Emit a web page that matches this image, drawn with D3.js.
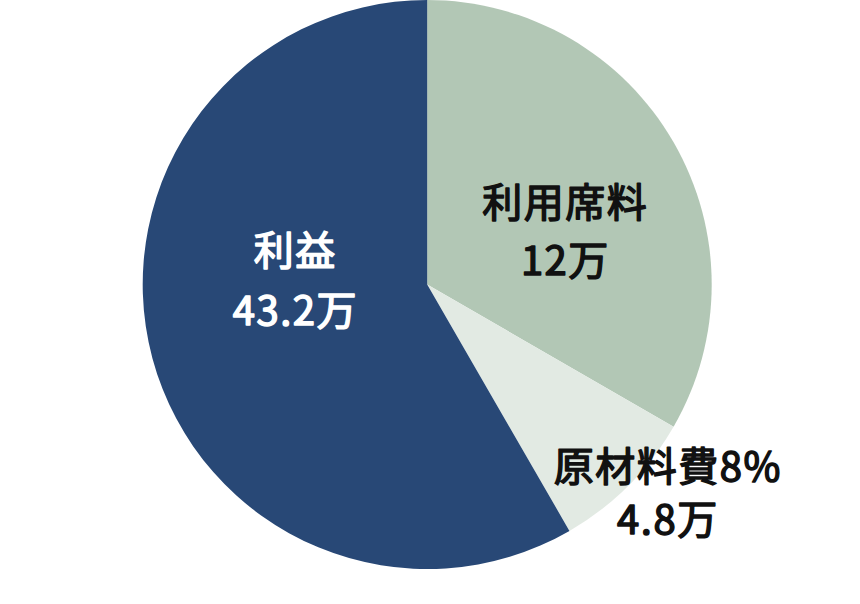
<!DOCTYPE html>
<html>
<head>
<meta charset="utf-8">
<script src="https://cdn.jsdelivr.net/npm/d3@7"></script>
<style>
  html, body { margin: 0; padding: 0; background: #fff; }
  svg text { font-family: "Noto Sans CJK JP", "Noto Sans", sans-serif; }
</style>
</head>
<body>
<svg id="chart" width="860" height="604"></svg>
<script>
// Slice data (shares, clockwise from 12 o'clock)
const categories = ["利用席料", "原材料費8%", "利益"];
const amounts = ["12万", "4.8万", "43.2万"];
const shares = [20, 5, 35];

const colors = ["#b2c7b5", "#e2eae3", "#284876"];
const textColors = ["#111", "#111", "#fff"];

// Label placement: radius from centre, angle (deg from top), line gap
const labelLayout = [
    { r: 149, a: 68, gap: 58 },
    { r: 317, a: 130.6, gap: 53 },
    { r: 132, a: 272.8, gap: 60 }
];

const width = 860, height = 604;
const cx = 427.2, cy = 284.5, radius = 284.5;

const svg = d3.select("#chart");
const g = svg.append("g").attr("transform", `translate(${cx},${cy})`);

const pie = d3.pie().sort(null).value(d => d);
const arc = d3.arc().innerRadius(0).outerRadius(radius);

const arcs = pie(shares);

g.selectAll("path")
    .data(arcs)
    .join("path")
    .attr("d", arc)
    .attr("fill", (d, i) => colors[i]);

// Labels
const labels = g.selectAll("g.label")
    .data(arcs)
    .join("g")
    .attr("class", "label")
    .attr("transform", (d, i) => {
        const l = labelLayout[i];
        const ang = l.a * Math.PI / 180;
        return `translate(${l.r * Math.sin(ang)},${-l.r * Math.cos(ang)})`;
    });

// medium weight look: regular face with a thin same-colour stroke
function addLine(sel, key, sign) {
    sel.append("text")
        .attr("text-anchor", "middle")
        .attr("dominant-baseline", "central")
        .attr("y", (d, i) => sign * labelLayout[i].gap / 2)
        .style("font-size", "40px")
        .style("font-weight", 400)
        .style("letter-spacing", "1.5px")
        .attr("fill", (d, i) => textColors[i])
        .attr("stroke", (d, i) => textColors[i])
        .attr("stroke-width", 1.5)
        .attr("stroke-linejoin", "round")
        .text((d, i) => key[i]);
}
addLine(labels, categories, -1);
addLine(labels, amounts, 1);
</script>
</body>
</html>
